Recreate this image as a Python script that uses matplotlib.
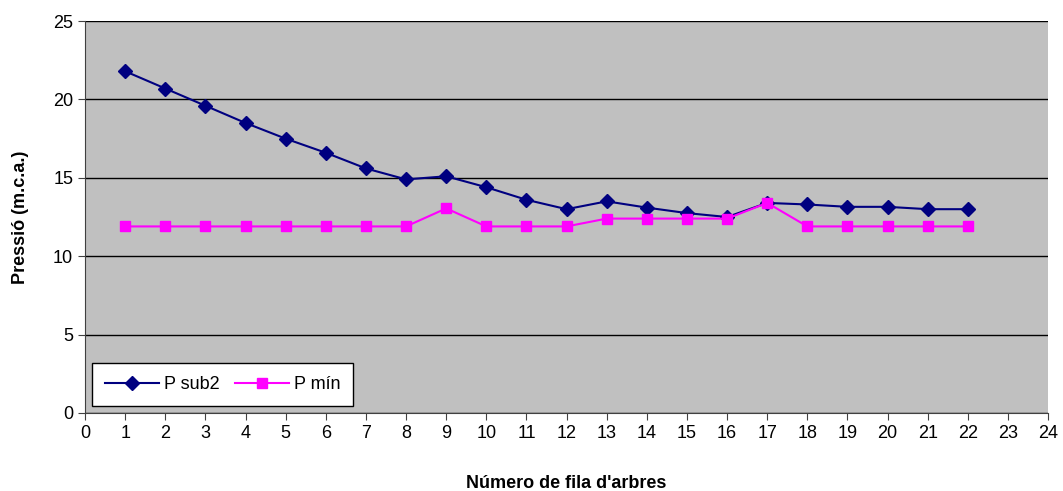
import matplotlib
matplotlib.use('Agg')
import matplotlib.pyplot as plt

fila = list(range(1, 23))
p_sub2 = [21.8, 20.7, 19.6, 18.5, 17.5, 16.6, 15.6, 14.9, 15.1, 14.4, 13.6,
          13.0, 13.5, 13.1, 12.75, 12.5, 13.4, 13.3, 13.15, 13.15, 13.0, 13.0]
p_min = [11.9, 11.9, 11.9, 11.9, 11.9, 11.9, 11.9, 11.9, 13.05, 11.9, 11.9,
         11.9, 12.4, 12.4, 12.4, 12.4, 13.4, 11.9, 11.9, 11.9, 11.9, 11.9]

plt.rcParams['font.family'] = ['Liberation Sans', 'DejaVu Sans']

fig = plt.figure(figsize=(10.63, 4.91), dpi=100)
ax = fig.add_axes([0.080, 0.159, 0.906, 0.798])
ax.set_facecolor('#C0C0C0')

ax.plot(fila, p_sub2, color='#000080', marker='D', markersize=7, linewidth=1.5,
        label='P sub2')
ax.plot(fila, p_min, color='#FF00FF', marker='s', markersize=7, linewidth=1.5,
        label='P mín')

ax.set_xlim(0, 24)
ax.set_ylim(0, 25)
ax.set_xticks(range(0, 25))
ax.set_yticks(range(0, 26, 5))
ax.yaxis.grid(True, color='black', linewidth=1)
ax.set_axisbelow(True)
for s in ['top', 'right']:
    ax.spines[s].set_visible(False)
for s in ['left', 'bottom']:
    ax.spines[s].set_color('#404040')
ax.tick_params(labelsize=13, direction='out', length=5, color='#404040')

ax.set_xlabel("Número de fila d'arbres", fontsize=13, fontweight='bold', labelpad=24)
ax.set_ylabel('Pressió (m.c.a.)', fontsize=13, fontweight='bold', labelpad=17)

leg = ax.legend(loc='lower left', ncol=2, fontsize=13, frameon=True, fancybox=False,
                edgecolor='black', framealpha=1, borderaxespad=0.4, borderpad=0.7,
                handlelength=3, columnspacing=0.8, handletextpad=0.3)
leg.get_frame().set_linewidth(1)

plt.savefig('out.png', dpi=100)
